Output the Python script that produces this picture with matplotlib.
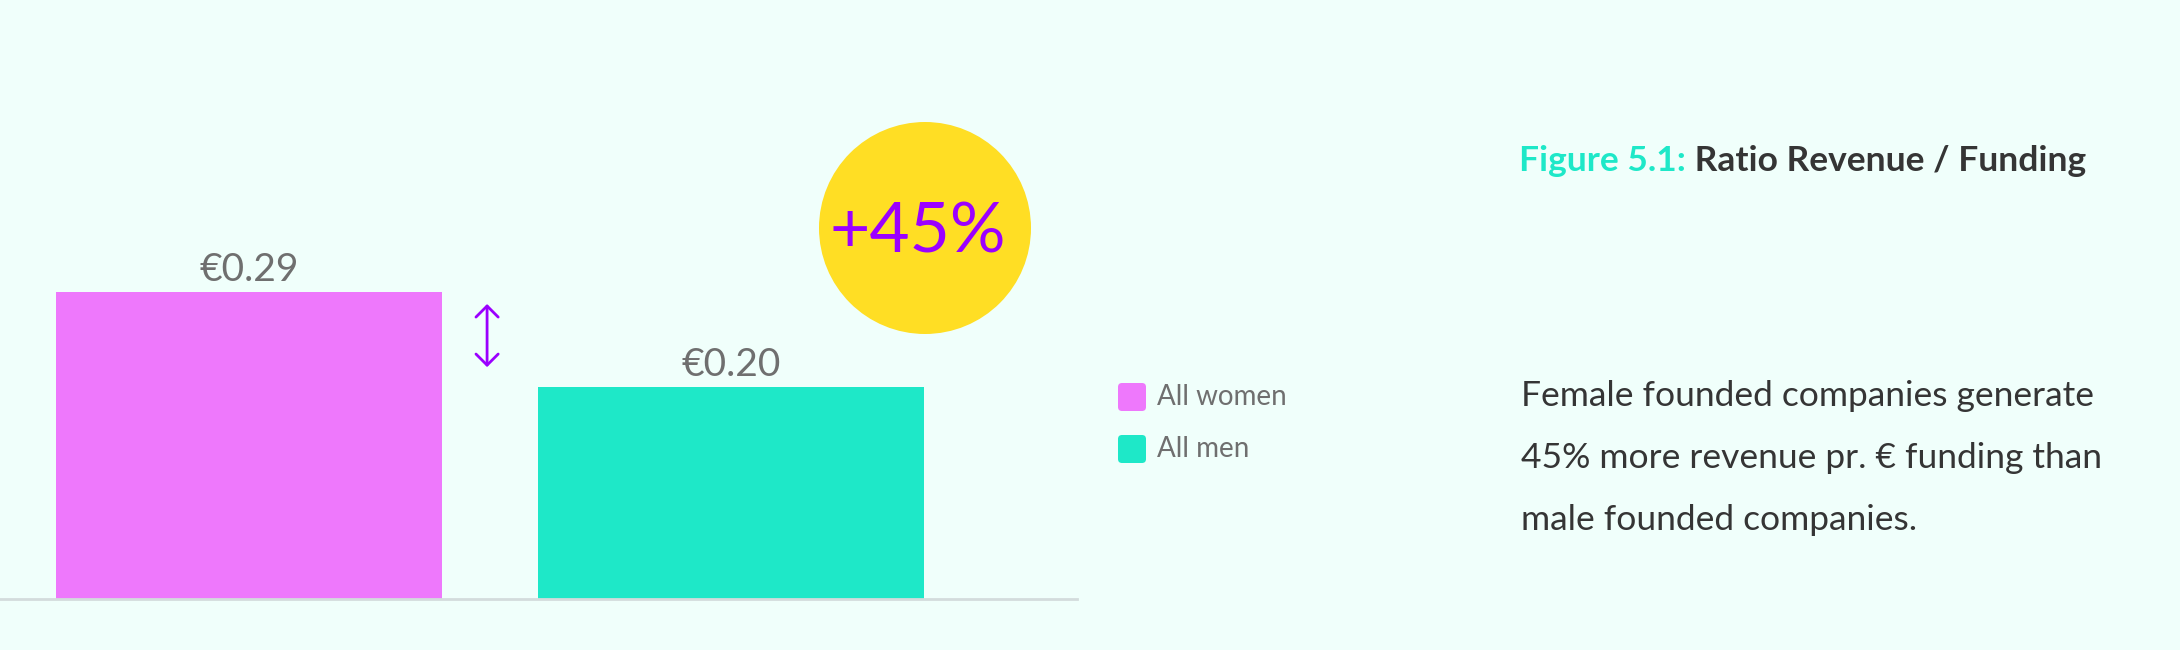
import matplotlib
matplotlib.use("Agg")
import matplotlib.pyplot as plt
from matplotlib.patches import Circle, FancyBboxPatch

# data
groups = ["All women", "All men"]
ratio = [0.29, 0.20]
value_labels = ["€0.29", "€0.20"]
uplift_label = "+45%"
title_num = "Figure 5.1:"
title_text = "Ratio Revenue / Funding"
body_lines = ["Female founded companies generate",
              "45% more revenue pr. € funding than",
              "male founded companies."]

BG = "#f0fffb"
PINK = "#ee78fc"
TEAL = "#1ee8c8"
YELLOW = "#ffde24"
PURPLE = "#9b00ff"
GRAY = "#6f6f6f"
DARK = "#353535"

plt.rcParams['font.family'] = ['Lato', 'DejaVu Sans']

W, H, DPI = 2180, 650, 100
fig = plt.figure(figsize=(W / DPI, H / DPI), dpi=DPI, facecolor=BG)

def px(x, y):
    # pixel from top-left -> inches for dpi_scale_trans
    return x / DPI, (H - y) / DPI

# bar axes
ax = fig.add_axes([0, 51 / H, 1077 / W, 599 / H])
ax.set_facecolor(BG)
xs = range(len(groups))
ax.bar(xs, ratio, width=0.8, color=[PINK, TEAL], zorder=2)
ax.set_xlim(-0.5166, 1.718)
ax.set_ylim(0, 0.5657)
for s in ["top", "right", "left"]:
    ax.spines[s].set_visible(False)
ax.spines["bottom"].set_color("#d3dcdc")
ax.spines["bottom"].set_linewidth(2)
ax.set_xticks([])
ax.set_yticks([])

for x, v, lab in zip(xs, ratio, value_labels):
    ax.annotate(lab, (x, v), xytext=(0, 8), textcoords="offset points",
                ha="center", va="baseline", fontsize=28, color=GRAY)

# double arrow between the bars
ax.annotate("", xy=(0.494, 0.219), xytext=(0.494, 0.2786),
            arrowprops=dict(arrowstyle="<->,head_length=0.4,head_width=0.4",
                            color=PURPLE, lw=2, mutation_scale=20,
                            shrinkA=0, shrinkB=0))

# yellow badge
cx, cy = px(925, 228)
fig.patches.append(Circle((cx, cy), 1.06, transform=fig.dpi_scale_trans,
                          facecolor=YELLOW, edgecolor="none"))
fig.text(cx - 0.07, cy - 0.05, uplift_label, transform=fig.dpi_scale_trans,
         ha="center", va="center", fontsize=50, color=PURPLE)

# legend
for i, (g, c) in enumerate(zip(groups, [PINK, TEAL])):
    top = 383 + i * 52
    x0, y0 = px(1118, top + 28)
    fig.patches.append(FancyBboxPatch((x0 + 0.04, y0 + 0.04), 0.2, 0.2,
                                      boxstyle="round,pad=0.04",
                                      transform=fig.dpi_scale_trans,
                                      facecolor=c, edgecolor="none"))
    tx, ty = px(1157, top + 14)
    fig.text(tx, ty, g, transform=fig.dpi_scale_trans, ha="left",
             va="center", fontsize=20, color=GRAY)

# title
tx, ty = px(1519, 171)
t1 = fig.text(tx, ty, title_num, transform=fig.dpi_scale_trans, ha="left",
              va="baseline", fontsize=25.5, fontweight="bold", color=TEAL)
ax.annotate(" " + title_text, xy=(1, 0), xycoords=t1, ha="left", va="bottom",
            fontsize=25.5, fontweight="bold", color=DARK, annotation_clip=False)

# description
for i, line in enumerate(body_lines):
    bx, by = px(1521, 406 + i * 62)
    fig.text(bx, by, line, transform=fig.dpi_scale_trans, ha="left",
             va="baseline", fontsize=25.5, color=DARK)

fig.savefig("out.png", dpi=DPI, facecolor=BG)
